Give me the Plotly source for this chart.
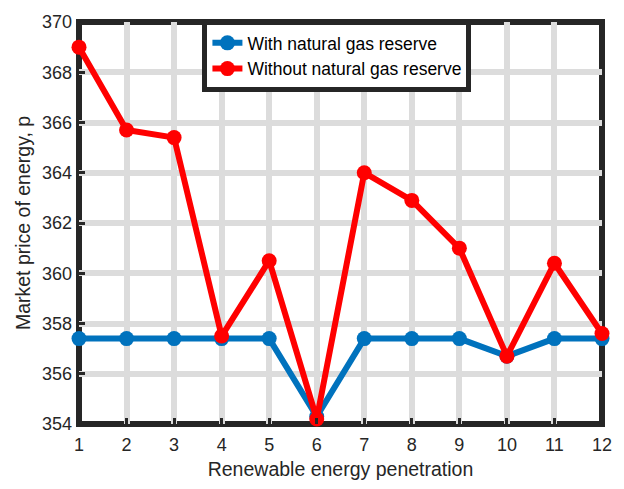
import plotly.graph_objects as go

# Renewable energy penetration levels
penetration = [1, 2, 3, 4, 5, 6, 7, 8, 9, 10, 11, 12]

# Market price of energy for each scenario
with_reserve = [357.4, 357.4, 357.4, 357.4, 357.4, 354.3, 357.4, 357.4, 357.4, 356.7, 357.4, 357.4]
without_reserve = [369.0, 365.7, 365.4, 357.5, 360.5, 354.2, 364.0, 362.9, 361.0, 356.7, 360.4, 357.6]

y_ticks = [354, 356, 358, 360, 362, 364, 366, 368, 370]

FONT = "Liberation Sans, Arial, sans-serif"
FRAME = "#262626"
GRID = "#dcdcdc"

fig = go.Figure()
fig.add_trace(go.Scatter(
    x=penetration, y=with_reserve, mode="lines+markers",
    name="With natural gas reserve",
    line=dict(color="#0072BD", width=6),
    marker=dict(color="#0072BD", size=15),
    cliponaxis=False,
))
fig.add_trace(go.Scatter(
    x=penetration, y=without_reserve, mode="lines+markers",
    name="Without natural gas reserve",
    line=dict(color="#FF0000", width=6),
    marker=dict(color="#FF0000", size=15),
    cliponaxis=False,
))

# Heavy box around the axes
fig.add_shape(type="rect", xref="paper", yref="paper", x0=0, x1=1, y0=0, y1=1,
              line=dict(color=FRAME, width=6), layer="below")

fig.update_layout(
    width=624, height=489,
    margin=dict(l=79, r=17, t=14, b=61),
    paper_bgcolor="white", plot_bgcolor="white",
    font=dict(family=FONT, color="#262626"),
    showlegend=True,
    legend=dict(
        x=0.236, y=1.005, xanchor="left", yanchor="top",
        bgcolor="white", bordercolor=FRAME, borderwidth=5,
        font=dict(size=17.5, family=FONT, color="black"),
        itemwidth=30, tracegroupgap=0,
    ),
    xaxis=dict(
        range=[1, 12], tickvals=penetration, ticktext=[str(v) for v in penetration],
        showgrid=True, gridcolor=GRID, gridwidth=6,
        zeroline=False, showline=False,
        ticks="inside", ticklen=6, tickwidth=3, tickcolor=FRAME,
        tickfont=dict(size=18, family=FONT, color="#262626"),
        ticklabelstandoff=8,
        title=dict(text="Renewable energy penetration", font=dict(size=19.5, family=FONT, color="#262626"), standoff=8),
    ),
    yaxis=dict(
        range=[354, 370], tickvals=y_ticks, ticktext=[str(v) for v in y_ticks],
        showgrid=True, gridcolor=GRID, gridwidth=6,
        zeroline=False, showline=False,
        ticks="inside", ticklen=6, tickwidth=3, tickcolor=FRAME,
        tickfont=dict(size=18, family=FONT, color="#262626"),
        ticklabelstandoff=6,
        title=dict(text="Market price of energy, p", font=dict(size=19.5, family=FONT, color="#262626"), standoff=6),
    ),
)

fig.write_html("out.html")
